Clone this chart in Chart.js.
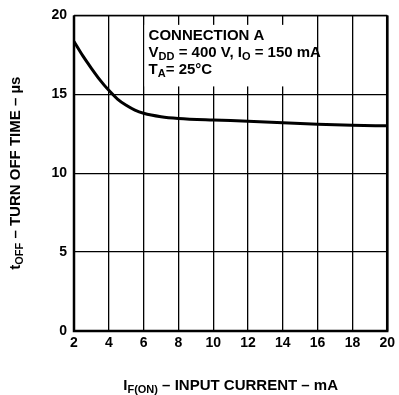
<!DOCTYPE html>
<html><head><meta charset="utf-8">
<script src="https://cdn.jsdelivr.net/npm/chart.js@4"></script>
<style>html,body{margin:0;padding:0;background:#fff}#wrap{width:399px;height:395px}</style>
</head><body><div id="wrap"><canvas id="c" width="399" height="395"></canvas></div>
<script>
const inputCurrent = [2, 2.5, 3, 3.5, 4, 4.5, 5, 5.5, 6, 7, 8, 10, 12, 14, 16, 18, 20];
const turnOffTime = [18.35, 17.45, 16.65, 15.9, 15.25, 14.7, 14.3, 14.0, 13.8, 13.58, 13.47, 13.37, 13.3, 13.2, 13.1, 13.04, 13.0];
const xTicks = [2, 4, 6, 8, 10, 12, 14, 16, 18, 20];
const yTicks = [0, 5, 10, 15, 20];
const yTitle = [["t", 0], ["OFF", 1], [" – TURN OFF TIME – µs", 0]];
const xTitle = [["I", 0], ["F(ON)", 1], [" – INPUT CURRENT – mA", 0]];
const noteLines = [
  [["CONNECTION A", 0]],
  [["V", 0], ["DD", 1], [" = 400 V, I", 0], ["O", 1], [" = 150 mA", 0]],
  [["T", 0], ["A", 1], ["= 25°C", 0]]
];

const FONT = '"Liberation Sans", Arial, Helvetica, sans-serif';
function segWidth(ctx, segs, big, small) {
  let w = 0;
  for (const [t, s] of segs) { ctx.font = 'bold ' + (s ? small : big) + 'px ' + FONT; w += ctx.measureText(t).width; }
  return w;
}
function drawSegs(ctx, segs, x, y, big, small, subOff) {
  for (const [t, s] of segs) {
    ctx.font = 'bold ' + (s ? small : big) + 'px ' + FONT;
    ctx.fillText(t, x, y + (s ? subOff : 0));
    x += ctx.measureText(t).width;
  }
}

const decor = {
  id: 'decor',
  beforeDatasetsDraw(chart) {
    const ctx = chart.ctx, xs = chart.scales.x, ys = chart.scales.y;
    ctx.save();
    const bx0 = xs.getPixelForValue(6) + 1, bx1 = xs.getPixelForValue(16) - 1;
    const by0 = ys.getPixelForValue(19.4), by1 = ys.getPixelForValue(15.5);
    ctx.fillStyle = '#fff';
    ctx.fillRect(bx0, by0, bx1 - bx0, by1 - by0);
    ctx.fillStyle = '#000';
    ctx.textBaseline = 'alphabetic';
    ctx.textAlign = 'left';
    const tx = bx0 + 4;
    const bases = [by0 + 15, by0 + 32, by0 + 49];
    noteLines.forEach((l, i) => drawSegs(ctx, l, tx, bases[i], 15, 11, 3));
    ctx.restore();
  },
  afterDraw(chart) {
    const ctx = chart.ctx, a = chart.chartArea;
    ctx.save();
    ctx.strokeStyle = '#000';
    ctx.lineWidth = 2.5;
    ctx.beginPath();
    ctx.moveTo(a.left, a.top); ctx.lineTo(a.left, a.bottom); ctx.lineTo(a.right, a.bottom); ctx.lineTo(a.right, a.top);
    ctx.stroke();
    ctx.lineWidth = 1.5;
    ctx.beginPath(); ctx.moveTo(a.left, a.top); ctx.lineTo(a.right, a.top); ctx.stroke();
    ctx.fillStyle = '#000';
    ctx.textBaseline = 'alphabetic';
    const wx = segWidth(ctx, xTitle, 15, 11);
    drawSegs(ctx, xTitle, (a.left + a.right) / 2 - wx / 2, 390, 15, 11, 3);
    const wy = segWidth(ctx, yTitle, 15, 11);
    ctx.translate(20, (a.top + a.bottom) / 2);
    ctx.rotate(-Math.PI / 2);
    drawSegs(ctx, yTitle, -wy / 2, 0, 15, 11, 3);
    ctx.restore();
  }
};

new Chart(document.getElementById('c'), {
  type: 'line',
  data: {
    datasets: [{
      data: inputCurrent.map((x, i) => ({ x, y: turnOffTime[i] })),
      borderColor: '#000', borderWidth: 3, pointRadius: 0, fill: false,
      cubicInterpolationMode: 'monotone'
    }]
  },
  options: {
    responsive: false, animation: false,
    layout: { padding: { top: 15, right: 7, left: 0, bottom: 0 } },
    plugins: { legend: { display: false }, tooltip: { enabled: false } },
    scales: {
      x: {
        type: 'linear', min: 2, max: 20,
        afterBuildTicks: s => { s.ticks = xTicks.map(v => ({ value: v })); },
        afterFit: s => { s.height = 64; },
        grid: { color: '#000', lineWidth: 1.3, drawTicks: false },
        border: { display: false },
        ticks: { color: '#000', padding: 4, maxRotation: 0, font: { family: FONT, size: 14, weight: 'bold' } }
      },
      y: {
        type: 'linear', min: 0, max: 20,
        afterBuildTicks: s => { s.ticks = yTicks.map(v => ({ value: v })); },
        afterFit: s => { s.width = 74; },
        grid: { color: '#000', lineWidth: 1.3, drawTicks: false },
        border: { display: false },
        ticks: { color: '#000', padding: 7, font: { family: FONT, size: 14, weight: 'bold' } }
      }
    }
  },
  plugins: [decor]
});
</script>
</body></html>
